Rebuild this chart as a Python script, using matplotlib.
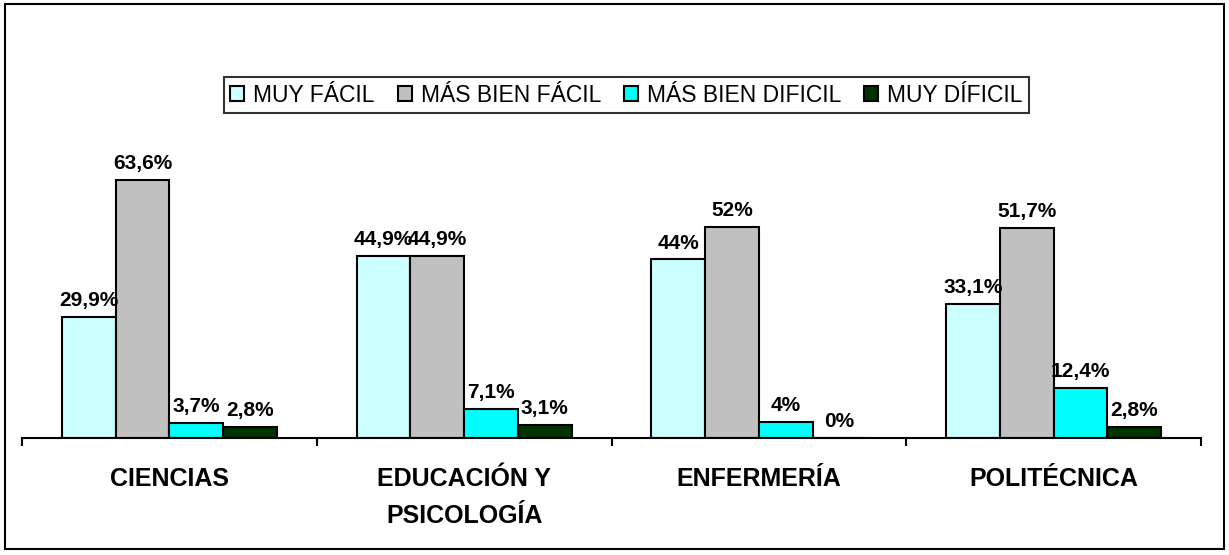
import matplotlib
matplotlib.use("Agg")
import matplotlib.pyplot as plt
import numpy as np
from matplotlib.patches import Rectangle

plt.rcParams['font.family'] = ['Liberation Sans', 'DejaVu Sans']

categories = ["CIENCIAS", "EDUCACIÓN Y\nPSICOLOGÍA", "ENFERMERÍA", "POLITÉCNICA"]
series_names = ["MUY FÁCIL", "MÁS BIEN FÁCIL", "MÁS BIEN DIFICIL", "MUY DÍFICIL"]
muy_facil = [29.9, 44.9, 44.0, 33.1]
mas_bien_facil = [63.6, 44.9, 52.0, 51.7]
mas_bien_dificil = [3.7, 7.1, 4.0, 12.4]
muy_dificil = [2.8, 3.1, 0.0, 2.8]
colors = ["#CCFFFF", "#C0C0C0", "#00FFFF", "#003300"]

series = [muy_facil, mas_bien_facil, mas_bien_dificil, muy_dificil]

W, H = 1229, 555
fig = plt.figure(figsize=(W / 100, H / 100), dpi=100)
ax = fig.add_axes([22 / W, 1 - 438 / H, (1201 - 22) / W, (438 - 154) / H])

x = np.arange(len(categories))
bw = 0.1825
for i, (vals, col, name) in enumerate(zip(series, colors, series_names)):
    pos = x - 1.5 * bw + i * bw
    bars = ax.bar(pos, vals, width=bw, color=col, edgecolor="black", linewidth=1.5, label=name)
    for b, v in zip(bars, vals):
        txt = f"{v:g}".replace(".", ",") + "%"
        ax.annotate(txt, (b.get_x() + b.get_width() / 2, v), xytext=(0, 5),
                    textcoords="offset points", ha="center", va="bottom",
                    fontsize=15, fontweight="bold")

ax.set_xlim(-0.5, len(categories) - 0.5)
ax.set_ylim(0, 70)
for s in ["top", "right", "left"]:
    ax.spines[s].set_visible(False)
ax.spines["bottom"].set_linewidth(1.5)
ax.set_yticks([])
ax.set_xticks(np.arange(-0.5, len(categories)), minor=False)
ax.set_xticklabels([])
ax.set_xticks(x, minor=True)
ax.set_xticklabels(categories, minor=True, fontsize=18, fontweight="bold", linespacing=1.66, va="top")
ax.tick_params(axis="x", which="major", direction="out", length=6, width=1.5)
ax.tick_params(axis="x", which="minor", length=0, pad=21)

leg = fig.legend(loc="center", bbox_to_anchor=(626.5 / W, 1 - 95 / H), ncol=4,
                 fontsize=16.5, frameon=True, fancybox=False, edgecolor="black",
                 handlelength=0.6, handleheight=0.6, handletextpad=0.4,
                 columnspacing=1.0, borderpad=0.3, borderaxespad=0)
leg.get_frame().set_linewidth(1.5)

fig.patches.append(Rectangle((5 / W, 1 - 549 / H), (1224 - 5) / W, (549 - 4) / H,
                             transform=fig.transFigure, fill=False, edgecolor="black",
                             linewidth=1.5))

fig.savefig("out.png", dpi=100)
